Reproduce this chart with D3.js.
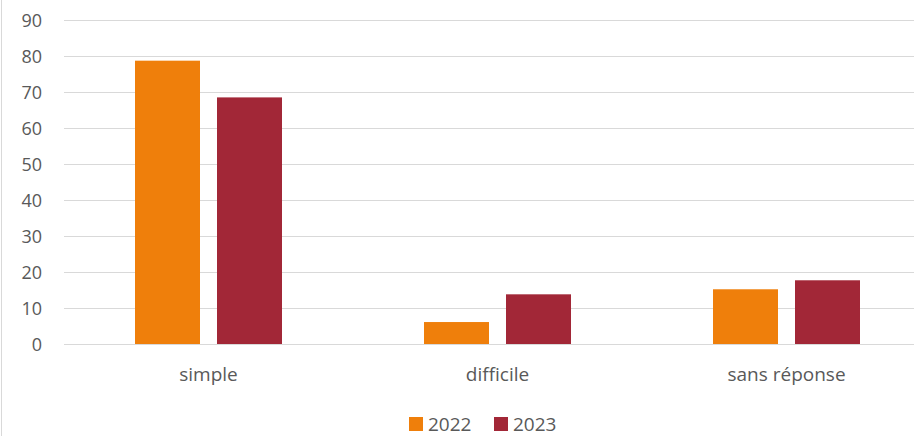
<!DOCTYPE html>
<html><head><meta charset="utf-8">
<script src="https://cdn.jsdelivr.net/npm/d3@7"></script>
<style>body{margin:0;background:#fff}svg{display:block}text{font-family:"Open Sans",sans-serif;fill:#595959}</style>
</head><body><div id="chart"></div>
<script>
const categories = ["simple", "difficile", "sans réponse"];
const seriesNames = ["2022", "2023"];
const values2022 = [78.7, 6.1, 15.2];
const values2023 = [68.5, 13.8, 17.7];
const yTicks = [0, 10, 20, 30, 40, 50, 60, 70, 80, 90];
const colors = ["#EF7F0B", "#A22737"];

const W = 914, H = 436;
const svg = d3.select("#chart").append("svg").attr("width", W).attr("height", H);

// border left
svg.append("line").attr("x1", 1.5).attr("x2", 1.5).attr("y1", 0).attr("y2", H)
  .attr("stroke", "#d9d9d9").attr("stroke-width", 1);

const y = d3.scaleLinear().domain([0, 90]).range([344, 20]);
const x0 = d3.scaleBand().domain(categories).range([64, 931]).padding(0);
const groupPad = 71;
const x1 = d3.scaleBand().domain(seriesNames).range([0, x0.bandwidth() - 2 * groupPad]).paddingInner(17 / 82);

// gridlines
svg.append("g").selectAll("line").data(yTicks).join("line")
  .attr("x1", 64).attr("x2", W)
  .attr("y1", d => Math.round(y(d)) + 0.5).attr("y2", d => Math.round(y(d)) + 0.5)
  .attr("stroke", "#d9d9d9").attr("stroke-width", 1.2);

// y tick labels
svg.append("g").selectAll("text").data(yTicks).join("text")
  .attr("x", 42).attr("y", d => y(d) + 6.5)
  .attr("text-anchor", "end").style("font-size", "18px").text(d => d);

const data = [values2022, values2023];
const g = svg.append("g");
seriesNames.forEach((s, si) => {
  g.append("g").selectAll("rect").data(categories).join("rect")
    .attr("x", c => x0(c) + groupPad + x1(s))
    .attr("width", x1.bandwidth())
    .attr("y", (c, i) => y(data[si][i]))
    .attr("height", (c, i) => y(0) - y(data[si][i]))
    .attr("fill", colors[si]);
});

// category labels
svg.append("g").selectAll("text").data(categories).join("text")
  .attr("x", c => x0(c) + x0.bandwidth() / 2).attr("y", 381)
  .attr("text-anchor", "middle").style("font-size", "19px").text(c => c);

// legend
const legX = [409, 494];
seriesNames.forEach((s, i) => {
  svg.append("rect").attr("x", legX[i]).attr("y", 417).attr("width", 14).attr("height", 14).attr("fill", colors[i]);
  svg.append("text").attr("x", legX[i] + 19).attr("y", 431).style("font-size", "19px").text(s);
});
</script></body></html>
